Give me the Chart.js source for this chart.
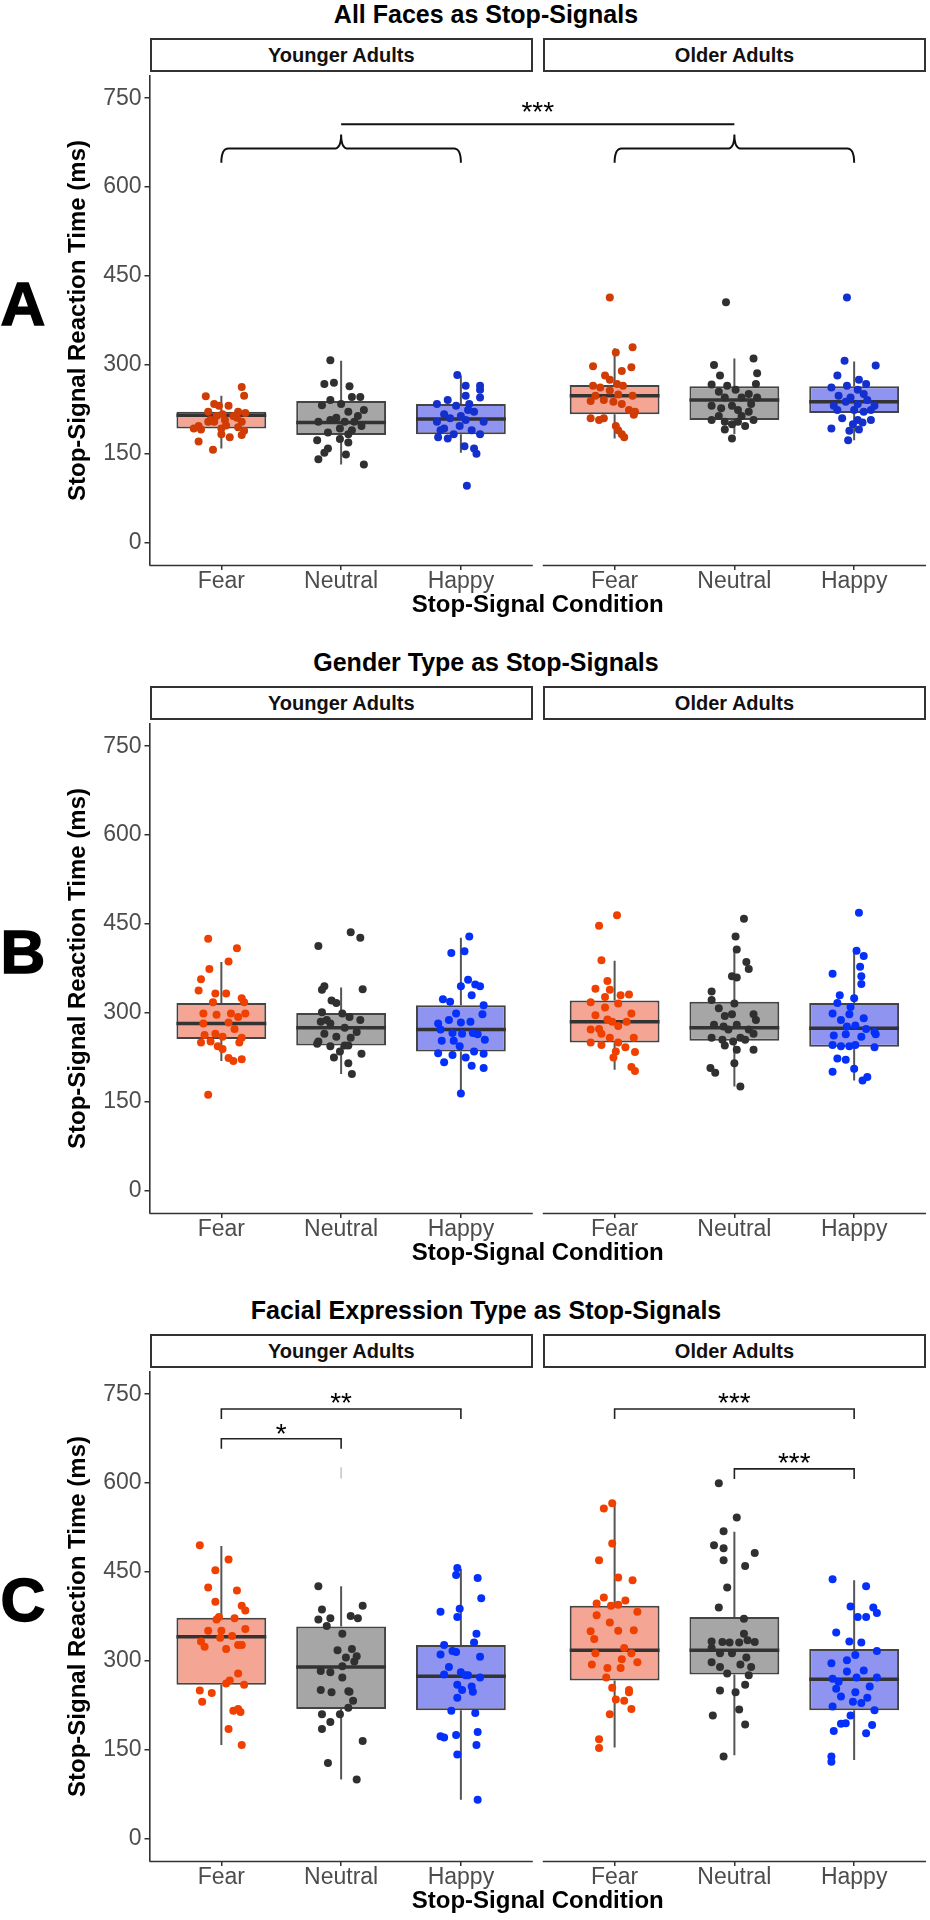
<!DOCTYPE html>
<html>
<head>
<meta charset="utf-8">
<title>Stop-Signal Reaction Time</title>
<script src="https://cdn.jsdelivr.net/npm/chart.js@4.4.1/dist/chart.umd.min.js"></script>
<style>
    body { margin: 0; width: 930px; height: 1920px; position: relative; overflow: hidden; background: #fff;
           font-family: "Liberation Sans", Arial, sans-serif; }
    canvas { position: absolute; left: 0; }
    .title { position: absolute; left: 236px; width: 500px; text-align: center; font-weight: bold;
             font-size: 25px; line-height: 25px; color: #000; }
    .strip { position: absolute; height: 34px; box-sizing: border-box; border: 2px solid #333; background: #fff;
             text-align: center; font-weight: bold; font-size: 20px; line-height: 30px; color: #111; }
    .letter { position: absolute; left: 0; width: 46px; text-align: center; font-weight: bold;
              font-size: 62px; line-height: 62px; color: #000; -webkit-text-stroke: 1.5px #000; }
</style>
</head>
<body>
<canvas id="panelA" width="930" height="545"></canvas>
<canvas id="panelB" width="930" height="545"></canvas>
<canvas id="panelC" width="930" height="545"></canvas>

<script>
// ---- data ----
const categories = ['Fear', 'Neutral', 'Happy'];
const facets = ['Younger Adults', 'Older Adults'];
const yTicks = [0, 150, 300, 450, 600, 750];
const panelLetters = ['A', 'B', 'C'];
const panelTitles = ['All Faces as Stop-Signals', 'Gender Type as Stop-Signals', 'Facial Expression Type as Stop-Signals'];

// box stats: [lower whisker, Q1, median, Q3, upper whisker]
const aBoxYounger = [[159, 193, 215, 221, 248], [132, 182, 203, 239, 307], [152, 183, 209, 234, 282]];
const aBoxOlder   = [[176, 217, 248, 266, 328], [183, 207, 241, 264, 311], [173, 219, 238, 264, 306]];
const bBoxYounger = [[219, 256, 282, 317, 386], [197, 245, 275, 300, 343], [164, 235, 272, 313, 427]];
const bBoxOlder   = [[204, 250, 285, 321, 388], [176, 253, 275, 319, 407], [186, 243, 274, 317, 404]];
const cBoxYounger = [[158, 260, 341, 373, 494], [100, 219, 290, 358, 426], [66, 217, 274, 327, 455]];
const cBoxOlder   = [[154, 267, 318, 393, 564], [141, 277, 318, 374, 518], [133, 217, 269, 320, 436]];

// jittered points: [jitter offset, SSRT ms]
const aYoungerFear = [[-0.13,247],[0.17,263],[0.19,248],[-0.06,234],[-0.02,231],[0.06,231],[-0.11,221],[0.14,221],[0.2,219],[0.01,217],[0.1,214],[-0.04,214],[-0.19,197],[-0.17,191],[-0.11,204],[-0.06,204],[0.03,207],[0.17,204],[0.14,195],[0,193],[0.19,189],[0,183],[0.07,178],[0.17,182],[-0.19,171],[-0.07,157],[-0.23,193],[0.13,211],[-0.09,207],[0.04,198]];
const aYoungerNeutral = [[-0.09,308],[-0.14,268],[-0.06,270],[0.07,264],[0.09,246],[0.16,246],[-0.09,241],[-0.16,232],[0,234],[0.19,224],[0.06,221],[0.14,214],[-0.09,207],[-0.19,204],[0.03,204],[0.11,204],[-0.11,186],[-0.01,193],[0.09,190],[0.06,183],[-0.2,173],[-0.01,175],[0.06,169],[-0.11,159],[-0.14,152],[0.04,149],[-0.19,141],[0.19,132],[-0.04,211],[0.17,197]];
const aYoungerHappy = [[-0.03,283],[0.04,265],[0.16,265],[0.16,258],[0.04,248],[0.16,245],[-0.11,241],[-0.2,234],[-0.04,231],[0.07,234],[-0.14,217],[0,214],[0.11,221],[0.19,204],[-0.2,204],[-0.09,210],[0.04,207],[-0.14,193],[-0.01,197],[0.09,190],[0.16,183],[-0.19,178],[-0.11,176],[0.03,163],[0.11,159],[0.13,150],[0.05,96],[-0.06,183],[-0.17,190],[0.06,224]];
const aOlderFear = [[-0.04,414],[0.15,330],[0.01,321],[-0.18,298],[0.14,296],[0.06,290],[-0.08,282],[-0.04,275],[0.02,268],[-0.18,265],[0.07,265],[-0.12,262],[-0.04,257],[-0.16,248],[0.03,250],[0.15,248],[-0.2,239],[-0.09,241],[-0.01,238],[0.06,234],[0.17,221],[-0.2,210],[-0.09,210],[-0.13,207],[0.01,197],[0.03,190],[0.16,216],[0.06,183],[0.08,178],[0.12,224]];
const aOlderNeutral = [[-0.07,406],[0.16,311],[-0.17,300],[0.19,286],[-0.12,282],[-0.19,267],[-0.06,265],[0.18,268],[-0.13,255],[0.01,258],[0.12,251],[-0.08,245],[0.06,245],[0.19,245],[-0.19,231],[-0.02,231],[0.14,234],[-0.11,227],[0.03,224],[-0.19,207],[-0.08,204],[0.16,207],[0.03,204],[-0.02,200],[-0.08,191],[-0.02,176],[0.09,197],[-0.13,214],[0.12,221],[0.06,214]];
const aOlderHappy = [[-0.06,414],[-0.08,307],[0.18,299],[-0.14,282],[0.04,275],[0.1,268],[-0.06,265],[-0.19,262],[0.03,258],[0.08,251],[-0.13,248],[-0.03,245],[0.11,241],[-0.07,238],[0.03,234],[-0.17,231],[0.17,231],[0,224],[0.08,221],[-0.1,210],[0.03,207],[0.14,207],[-0.01,200],[-0.19,193],[-0.04,189],[0.04,191],[-0.05,173],[-0.14,224],[0.14,224],[0.07,203]];

const bYoungerFear = [[-0.11,425],[0.13,409],[0.06,387],[-0.1,374],[-0.17,357],[-0.19,338],[0.04,333],[-0.05,333],[0.17,325],[0.19,318],[-0.07,318],[-0.15,299],[-0.04,297],[0.08,299],[0.2,299],[0.14,293],[-0.15,282],[0.06,284],[0.11,273],[-0.14,263],[-0.05,265],[0.01,260],[0.17,258],[-0.09,252],[-0.17,250],[0.15,250],[-0.03,244],[0.01,239],[0.06,224],[0.1,219],[0.17,222],[-0.11,162]];
const bYoungerNeutral = [[0.08,436],[0.16,427],[-0.19,413],[0.18,340],[-0.16,339],[-0.14,345],[-0.08,321],[-0.04,317],[-0.16,301],[0.01,299],[0.07,293],[0.16,288],[-0.12,288],[-0.17,285],[-0.09,282],[0.03,275],[0.13,268],[-0.14,265],[-0.04,260],[0.08,258],[-0.19,252],[-0.09,244],[0.03,245],[0.06,245],[-0.01,235],[0.17,231],[-0.06,225],[0.06,215],[0.09,197],[-0.2,248]];
const bYoungerHappy = [[0.07,429],[-0.08,401],[0.03,404],[0.06,356],[0,345],[0.12,348],[0.16,345],[0.09,330],[-0.15,323],[-0.09,319],[0.19,313],[-0.04,299],[0.18,298],[-0.1,288],[0,284],[0.08,285],[-0.19,282],[-0.17,272],[-0.07,266],[0.01,265],[0.1,266],[0.14,264],[-0.16,253],[-0.06,253],[0.2,255],[-0.01,244],[0.11,235],[-0.19,232],[-0.07,229],[0.19,231],[0.04,225],[-0.14,217],[0.09,211],[0.19,207],[0,164]];
const bOlderFear = [[0.02,465],[-0.13,447],[-0.11,389],[-0.06,354],[-0.16,341],[-0.04,339],[0.05,330],[0.12,331],[-0.08,327],[-0.2,318],[0.03,316],[-0.08,309],[0.14,299],[-0.16,296],[-0.06,289],[-0.02,285],[0.1,285],[0.03,278],[-0.13,273],[-0.2,272],[0.16,258],[-0.11,265],[-0.04,258],[-0.2,250],[-0.11,246],[0.03,250],[0.09,242],[0.01,235],[-0.01,225],[0.17,234],[0.14,209],[0.17,202]];
const bOlderNeutral = [[0.08,459],[0.01,429],[0.02,407],[0.1,386],[0.12,374],[-0.02,362],[0.02,360],[-0.19,336],[-0.19,322],[0,316],[-0.13,308],[0.16,298],[-0.08,295],[-0.02,298],[0.18,288],[-0.17,280],[-0.09,277],[0.02,280],[-0.05,272],[0.12,272],[0.16,265],[-0.19,258],[0.05,258],[-0.1,255],[-0.01,252],[0.09,255],[-0.08,245],[0.16,238],[0.02,238],[0,215],[-0.2,207],[-0.16,199],[0.05,176]];
const bOlderHappy = [[0.04,469],[0.02,405],[0.08,396],[0.05,378],[-0.18,366],[0.06,362],[0.06,349],[-0.12,330],[0,325],[-0.14,317],[-0.03,310],[-0.18,299],[-0.04,298],[0.08,291],[-0.11,288],[0.01,279],[-0.06,277],[0.1,273],[0.17,268],[0.18,264],[-0.17,262],[-0.07,264],[0.06,260],[-0.18,246],[-0.11,244],[-0.04,244],[0.01,246],[0.17,242],[-0.14,223],[-0.07,221],[0,206],[-0.18,201],[0.11,192],[0.07,186]];

const cYoungerFear = [[-0.18,495],[0.06,471],[-0.05,453],[-0.11,424],[0.13,419],[-0.05,400],[0.17,393],[0.2,385],[-0.02,374],[0.11,372],[-0.04,370],[-0.11,351],[0,351],[0.2,354],[0.09,342],[-0.17,333],[-0.14,324],[0.04,320],[0.14,327],[0.17,327],[0.07,267],[0.14,279],[0.04,262],[0.19,260],[-0.18,250],[-0.08,246],[-0.16,231],[0.14,219],[0.1,216],[0.16,214],[0.06,185],[0.17,158],[-0.01,339]];
const cYoungerNeutral = [[-0.19,426],[0.18,393],[-0.16,387],[-0.19,370],[-0.09,372],[0.08,376],[0.14,372],[-0.12,359],[0.01,346],[-0.03,318],[0.09,320],[0.04,306],[0.13,308],[0.11,299],[0.01,291],[-0.17,283],[-0.09,281],[0.01,272],[-0.17,251],[-0.08,247],[0.06,249],[0.1,233],[0.06,221],[-0.16,210],[-0.01,210],[-0.09,197],[-0.16,185],[0.18,165],[-0.11,128],[0.13,100],[0.07,248]];
const cYoungerHappy = [[-0.03,457],[-0.04,445],[0.14,440],[0.17,406],[-0.17,383],[-0.01,388],[-0.03,374],[0.13,346],[-0.14,327],[0.11,331],[-0.07,317],[-0.04,315],[-0.17,311],[0.16,307],[-0.1,290],[0,281],[-0.14,277],[0.04,276],[0.16,272],[-0.03,260],[0.09,257],[0.01,251],[-0.03,238],[-0.08,216],[0.12,212],[-0.17,173],[-0.14,171],[-0.04,175],[0.14,180],[0.13,158],[-0.03,142],[0.14,66],[0.06,276],[0.1,248]];
const cOlderFear = [[-0.02,566],[-0.09,557],[-0.02,498],[-0.13,470],[0.03,441],[0.15,436],[-0.09,407],[-0.15,397],[-0.03,393],[0.03,395],[0.09,402],[0.19,383],[-0.15,377],[-0.04,365],[0.03,351],[0.16,352],[-0.2,350],[-0.17,337],[-0.16,313],[0.08,322],[0.14,313],[0.06,303],[-0.19,294],[0.19,298],[-0.06,288],[0.05,288],[-0.07,272],[-0.02,255],[0.12,251],[0.01,235],[0.08,233],[0.14,219],[-0.04,210],[-0.13,168],[-0.13,153],[0.12,247]];
const cOlderNeutral = [[-0.13,600],[0.02,542],[-0.09,519],[-0.17,495],[-0.09,490],[0.17,482],[-0.09,470],[0.09,460],[-0.06,424],[-0.13,390],[0.08,371],[0.08,346],[-0.19,333],[-0.1,332],[-0.04,331],[0.04,331],[0.11,335],[0.17,332],[-0.19,322],[-0.12,313],[0.1,306],[-0.02,313],[-0.19,298],[-0.12,290],[0.05,294],[0.14,290],[-0.06,279],[0.12,276],[0.09,260],[-0.12,250],[0.01,247],[0.04,218],[-0.18,208],[0.09,193],[-0.09,139]];
const cOlderHappy = [[-0.18,438],[0.1,426],[-0.03,392],[0.16,390],[0.19,381],[0.03,374],[0.1,374],[-0.15,348],[-0.04,333],[0.06,331],[0.19,317],[-0.06,301],[0.01,310],[-0.19,296],[0.08,284],[-0.06,282],[-0.18,270],[0.02,272],[0.19,272],[-0.13,265],[0.13,257],[-0.15,253],[0.01,247],[-0.11,240],[0.11,238],[-0.01,231],[0.06,229],[-0.18,223],[0.17,217],[-0.03,208],[-0.11,194],[-0.07,195],[0.15,192],[-0.17,182],[0.1,178],[-0.19,139],[-0.19,130]];

// significance marks
const aBraces = [{facet: 0, from: 0, to: 2, y: 665}, {facet: 1, from: 0, to: 2, y: 665}];
const aLinks = [{cat: 1, y: 706, label: '***', labelY: 738}];
const cBrackets = [
    {facet: 0, from: 0, to: 1, y: 675, label: '*', labelY: 695},
    {facet: 0, from: 0, to: 2, y: 725, label: '**', labelY: 747},
    {facet: 1, from: 0, to: 2, y: 725, label: '***', labelY: 747},
    {facet: 1, from: 1, to: 2, y: 624, label: '***', labelY: 646}
];
const cStrayMark = [608, 627];

// ---- styling ----
const FONT = "'Liberation Sans', Arial, sans-serif";
const Y_MIN = -37.5, Y_MAX = 787.5;
const X_MIN = 0.4, FACET_SPAN = 3.2, FACET_GAP = 0.0835;
const FACET_SHIFT = FACET_SPAN + FACET_GAP;
const X_MAX = X_MIN + FACET_SPAN * 2 + FACET_GAP;
const BOX_WIDTH = 0.75;
const TIP = 17;
const boxFill = ['#f4a593', '#a6a6a6', '#8e94ef'];
const panelTops = [72, 720, 1368];

function xPos(facet, cat) {
    return cat + 1 + facet * FACET_SHIFT;
}

// facet axis lines, brackets and braces, drawn through the chart's scales
function marksPlugin(spec) {
    return {
        id: 'marks',
        afterDatasetsDraw(chart) {
            const {ctx, chartArea, scales: {x, y}} = chart;
            ctx.save();
            ctx.strokeStyle = '#333';
            ctx.lineWidth = 1.6;
            facets.forEach((_, f) => {
                ctx.beginPath();
                ctx.moveTo(x.getPixelForValue(X_MIN + f * FACET_SHIFT), chartArea.bottom + 0.5);
                ctx.lineTo(x.getPixelForValue(X_MIN + FACET_SPAN + f * FACET_SHIFT), chartArea.bottom + 0.5);
                ctx.stroke();
            });

            ctx.fillStyle = '#000';
            ctx.font = '28px ' + FONT;
            ctx.textAlign = 'center';
            ctx.textBaseline = 'alphabetic';
            const label = (text, px, value) => ctx.fillText(text, px, y.getPixelForValue(value) + 16);

            (spec.brackets || []).forEach(b => {
                const x1 = x.getPixelForValue(xPos(b.facet, b.from));
                const x2 = x.getPixelForValue(xPos(b.facet, b.to));
                const yl = y.getPixelForValue(b.y), yt = y.getPixelForValue(b.y - TIP);
                ctx.strokeStyle = '#222';
                ctx.lineWidth = 1.6;
                ctx.beginPath();
                ctx.moveTo(x1, yt);
                ctx.lineTo(x1, yl);
                ctx.lineTo(x2, yl);
                ctx.lineTo(x2, yt);
                ctx.stroke();
                label(b.label, (x1 + x2) / 2, b.labelY);
            });

            (spec.braces || []).forEach(b => {
                const x1 = x.getPixelForValue(xPos(b.facet, b.from));
                const x2 = x.getPixelForValue(xPos(b.facet, b.to));
                const xm = (x1 + x2) / 2, r = 7;
                const yl = y.getPixelForValue(b.y);
                const ye = y.getPixelForValue(b.y - 24), yc = y.getPixelForValue(b.y + 24);
                ctx.strokeStyle = '#111';
                ctx.lineWidth = 2;
                ctx.beginPath();
                ctx.moveTo(x1, ye);
                ctx.quadraticCurveTo(x1, yl, x1 + r, yl);
                ctx.lineTo(xm - r, yl);
                ctx.quadraticCurveTo(xm, yl, xm, yc);
                ctx.quadraticCurveTo(xm, yl, xm + r, yl);
                ctx.lineTo(x2 - r, yl);
                ctx.quadraticCurveTo(x2, yl, x2, ye);
                ctx.stroke();
            });

            (spec.links || []).forEach(l => {
                const x1 = x.getPixelForValue(xPos(0, l.cat));
                const x2 = x.getPixelForValue(xPos(1, l.cat));
                ctx.strokeStyle = '#111';
                ctx.lineWidth = 2;
                ctx.beginPath();
                ctx.moveTo(x1, y.getPixelForValue(l.y));
                ctx.lineTo(x2, y.getPixelForValue(l.y));
                ctx.stroke();
                label(l.label, (x1 + x2) / 2, l.labelY);
            });

            if (spec.stray) {
                const px = x.getPixelForValue(xPos(0, 1));
                ctx.strokeStyle = '#c4c4c4';
                ctx.lineWidth = 1.5;
                ctx.beginPath();
                ctx.moveTo(px, y.getPixelForValue(spec.stray[0]));
                ctx.lineTo(px, y.getPixelForValue(spec.stray[1]));
                ctx.stroke();
            }
            ctx.restore();
        }
    };
}

function buildPanel(canvasId, boxes, points, pointColors, spec) {
    const boxData = [], boxColors = [], whiskerData = [], medianData = [];
    boxes.forEach((facetBoxes, f) => facetBoxes.forEach((b, c) => {
        const x = xPos(f, c);
        boxData.push({x: x, y: [b[1], b[3]]});
        boxColors.push(boxFill[c]);
        whiskerData.push({x: x, y: b[0]}, {x: x, y: b[1]}, {x: x, y: null},
                         {x: x, y: b[3]}, {x: x, y: b[4]}, {x: x, y: null});
        medianData.push({x: x - BOX_WIDTH / 2, y: b[2]}, {x: x + BOX_WIDTH / 2, y: b[2]}, {x: x, y: null});
    }));

    const pointSets = categories.map((name, c) => ({
        type: 'scatter',
        label: name,
        order: 0,
        data: points.flatMap((facetPts, f) => facetPts[c].map(p => ({x: xPos(f, c) + p[0], y: p[1]}))),
        backgroundColor: pointColors[c],
        borderWidth: 0,
        pointRadius: 4
    }));

    new Chart(document.getElementById(canvasId), {
        type: 'scatter',
        data: {
            datasets: [
                {type: 'line', label: 'whiskers', order: 3, data: whiskerData, borderColor: '#555',
                 borderWidth: 2, pointRadius: 0, spanGaps: false, fill: false},
                {type: 'bar', label: 'boxes', order: 2, data: boxData, backgroundColor: boxColors,
                 borderColor: '#444', borderWidth: 2, borderSkipped: false,
                 barPercentage: BOX_WIDTH, categoryPercentage: 1},
                {type: 'line', label: 'medians', order: 1, data: medianData, borderColor: '#333',
                 borderWidth: 3.5, pointRadius: 0, spanGaps: false, fill: false},
                ...pointSets
            ]
        },
        options: {
            responsive: false,
            animation: false,
            events: [],
            devicePixelRatio: 1,
            layout: {padding: {left: 0, right: 4, top: 0, bottom: 0}},
            plugins: {legend: {display: false}, tooltip: {enabled: false}},
            scales: {
                x: {
                    type: 'linear', min: X_MIN, max: X_MAX, offset: false,
                    afterBuildTicks: s => {
                        s.ticks = facets.flatMap((_, f) => categories.map((_, c) => ({value: xPos(f, c)})));
                    },
                    afterFit: s => { s.height = 52; s.paddingLeft = 0; s.paddingRight = 0; },
                    border: {display: false},
                    grid: {display: true, offset: false, drawOnChartArea: false, drawTicks: true,
                           tickLength: 5, color: '#333', lineWidth: 1.5},
                    ticks: {autoSkip: false, maxRotation: 0, padding: 0, color: '#4d4d4d',
                            font: {family: FONT, size: 23, lineHeight: 1},
                            callback: (v, i) => categories[i % categories.length]},
                    title: {display: true, text: 'Stop-Signal Condition', color: '#000', padding: 0,
                            font: {family: FONT, size: 24, weight: 'bold', lineHeight: 1}}
                },
                y: {
                    type: 'linear', min: Y_MIN, max: Y_MAX,
                    afterBuildTicks: s => { s.ticks = yTicks.map(v => ({value: v})); },
                    afterFit: s => { s.width = 149.5; s.paddingTop = 0; s.paddingBottom = 0; },
                    border: {display: true, color: '#333', width: 1.6},
                    grid: {display: true, drawOnChartArea: false, drawTicks: true, tickLength: 5,
                           color: '#333', lineWidth: 1.5},
                    ticks: {padding: 3, color: '#4d4d4d', font: {family: FONT, size: 23, lineHeight: 1}},
                    title: {display: true, text: 'Stop-Signal Reaction Time (ms)', color: '#000',
                            padding: {top: 66, bottom: 0},
                            font: {family: FONT, size: 24, weight: 'bold', lineHeight: 1}}
                }
            }
        },
        plugins: [marksPlugin(spec)]
    });
}

// ---- page furniture: titles, facet strips, panel letters ----
function addText(cls, text, css) {
    const el = document.createElement('div');
    el.className = cls;
    el.textContent = text;
    Object.assign(el.style, css);
    document.body.appendChild(el);
}

panelTops.forEach((top, p) => {
    document.getElementById(['panelA', 'panelB', 'panelC'][p]).style.top = top + 'px';
    addText('title', panelTitles[p], {top: (top - 70) + 'px'});
    addText('strip', facets[0], {top: (top - 34) + 'px', left: '149.5px', width: '383.5px'});
    addText('strip', facets[1], {top: (top - 34) + 'px', left: '543px', width: '383px'});
    addText('letter', panelLetters[p], {top: (top + 201) + 'px'});
});

buildPanel('panelA', [aBoxYounger, aBoxOlder],
    [[aYoungerFear, aYoungerNeutral, aYoungerHappy], [aOlderFear, aOlderNeutral, aOlderHappy]],
    ['#cf3d05', '#303030', '#1430cc'], {braces: aBraces, links: aLinks});

buildPanel('panelB', [bBoxYounger, bBoxOlder],
    [[bYoungerFear, bYoungerNeutral, bYoungerHappy], [bOlderFear, bOlderNeutral, bOlderHappy]],
    ['#f04000', '#303030', '#0530fa'], {});

buildPanel('panelC', [cBoxYounger, cBoxOlder],
    [[cYoungerFear, cYoungerNeutral, cYoungerHappy], [cOlderFear, cOlderNeutral, cOlderHappy]],
    ['#f04000', '#303030', '#0530fa'], {brackets: cBrackets, stray: cStrayMark});
</script>
</body>
</html>
